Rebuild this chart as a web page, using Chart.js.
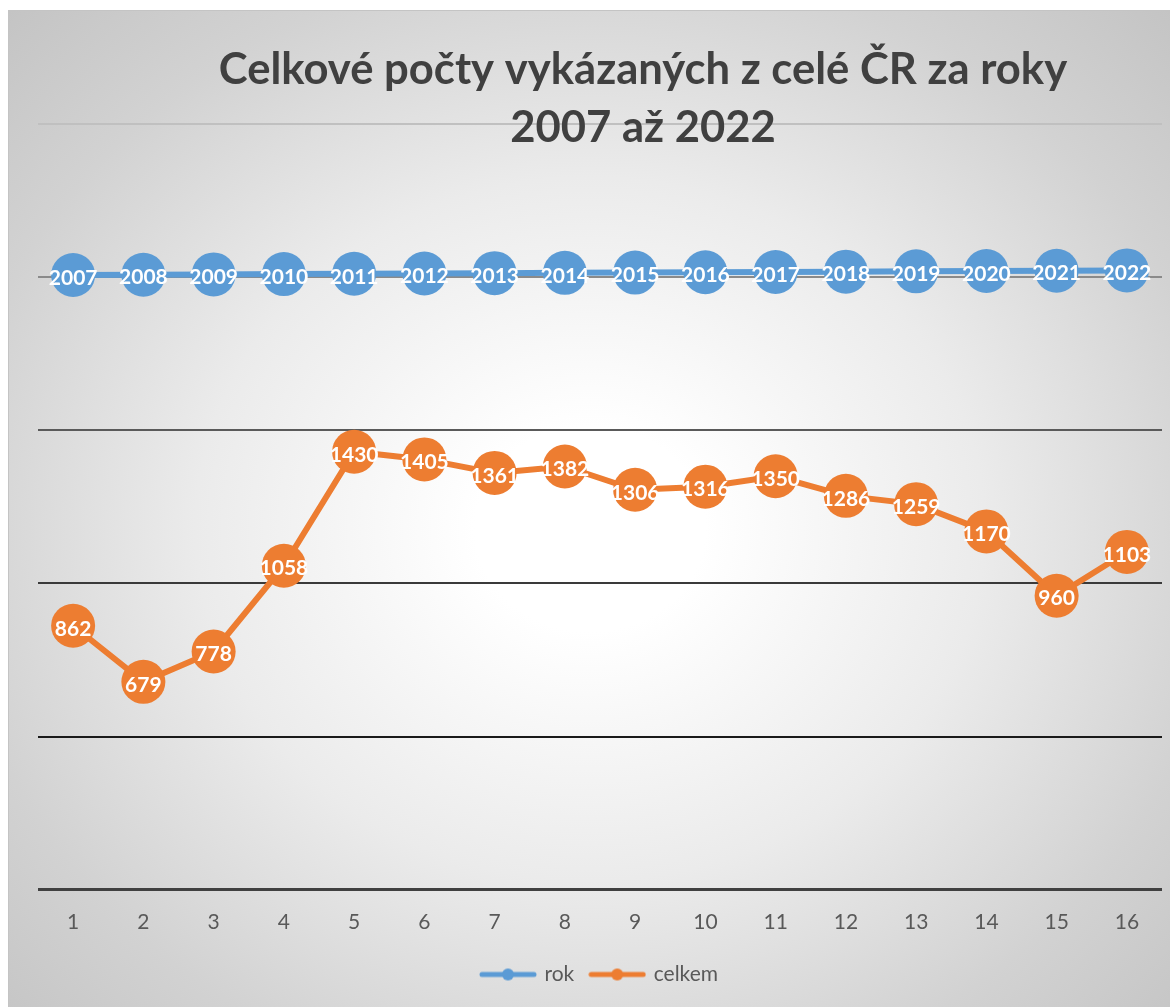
<!DOCTYPE html>
<html>
<head>
<meta charset="utf-8">
<script src="https://cdn.jsdelivr.net/npm/chart.js@4/dist/chart.umd.min.js"></script>
<style>
    html, body { margin: 0; padding: 0; background: #ffffff; overflow: hidden; }
    #wrap {
        position: absolute;
        left: 8px;
        top: 10px;
        width: 1162px;
        height: 996px;
        border-left: 1px solid #c4c4c4;
        border-top: 1px solid #c4c4c4;
        background: radial-gradient(ellipse farthest-corner at 50% 52%, #ffffff 0%, #ffffff 14%, #ebebeb 48%, #d2d2d2 78%, #c4c4c4 100%);
    }
</style>
</head>
<body>
<div id="wrap"><canvas id="chart"></canvas></div>
<script>
// data
const categories = ['1', '2', '3', '4', '5', '6', '7', '8', '9', '10', '11', '12', '13', '14', '15', '16'];
const rok = [2007, 2008, 2009, 2010, 2011, 2012, 2013, 2014, 2015, 2016, 2017, 2018, 2019, 2020, 2021, 2022];
const celkem = [862, 679, 778, 1058, 1430, 1405, 1361, 1382, 1306, 1316, 1350, 1286, 1259, 1170, 960, 1103];
const titleLines = ['Celkové počty vykázaných z celé ČR za roky', '2007 až 2022'];

const blue = '#5b9bd5';
const orange = '#ed7d31';
// gridline colour / width per tick (0, 500, ... 2500)
const gridColors = ['#404040', '#1a1a1a', '#3a3a3a', '#5a5a5a', '#8a8a8a', '#c0c0c0'];
const gridWidths = [3, 2, 2, 2, 2, 2];

function makeLegendIcon(color) {
    let c = document.createElement('canvas');
    c.width = 58;
    c.height = 16;
    let g = c.getContext('2d');
    g.strokeStyle = color;
    g.lineWidth = 5;
    g.lineCap = 'round';
    g.beginPath();
    g.moveTo(3, 8);
    g.lineTo(55, 8);
    g.stroke();
    g.fillStyle = color;
    g.beginPath();
    g.arc(29, 8, 6, 0, Math.PI * 2);
    g.fill();
    return c;
}
const legendIcons = [makeLegendIcon(blue), makeLegendIcon(orange)];

// white value labels inside the markers
const valueLabels = {
    id: 'valueLabels',
    afterDatasetsDraw: function (chart) {
        let ctx = chart.ctx;
        ctx.save();
        ctx.font = 'bold 21px Lato';
        ctx.fillStyle = '#ffffff';
        ctx.textAlign = 'center';
        ctx.textBaseline = 'middle';
        chart.data.datasets.forEach(function (ds, di) {
            chart.getDatasetMeta(di).data.forEach(function (pt, i) {
                ctx.fillText(String(ds.data[i]), pt.x, pt.y + 3);
            });
        });
        ctx.restore();
    }
};

// two-line title, centred a bit right of the canvas middle like the original
const chartTitle = {
    id: 'chartTitle',
    afterDraw: function (chart) {
        let ctx = chart.ctx;
        ctx.save();
        ctx.font = 'bold 40px Lato';
        let w = ctx.measureText(titleLines[0]).width;
        let size = 40 * 848 / w;
        ctx.font = 'bold ' + size.toFixed(1) + 'px Lato';
        ctx.fillStyle = '#404040';
        ctx.textAlign = 'center';
        ctx.textBaseline = 'alphabetic';
        ctx.fillText(titleLines[0], 634, 73);
        ctx.fillText(titleLines[1], 634, 131);
        ctx.restore();
    }
};

let ctx = document.getElementById('chart').getContext('2d');
let chart = new Chart(ctx, {
    type: 'line',
    data: {
        labels: categories,
        datasets: [{
            label: 'rok',
            data: rok,
            borderColor: blue,
            backgroundColor: blue,
            borderWidth: 6,
            pointRadius: 22,
            pointHoverRadius: 22,
            pointBorderWidth: 0,
            tension: 0
        }, {
            label: 'celkem',
            data: celkem,
            borderColor: orange,
            backgroundColor: orange,
            borderWidth: 6,
            pointRadius: 22,
            pointHoverRadius: 22,
            pointBorderWidth: 0,
            tension: 0
        }]
    },
    options: {
        responsive: true,
        maintainAspectRatio: false,
        animation: false,
        layout: {
            autoPadding: false,
            padding: { left: 29, right: 9, top: 113, bottom: 12 }
        },
        scales: {
            x: {
                offset: true,
                grid: { display: false },
                border: { display: false },
                ticks: {
                    color: '#595959',
                    font: { family: 'Lato', size: 21 },
                    padding: 12,
                    maxRotation: 0
                }
            },
            y: {
                min: 0,
                max: 2500,
                ticks: { stepSize: 500, display: false },
                border: { display: false },
                grid: {
                    drawTicks: false,
                    color: function (c) { return gridColors[c.index]; },
                    lineWidth: function (c) { return gridWidths[c.index]; }
                }
            }
        },
        plugins: {
            title: { display: false },
            tooltip: { enabled: false },
            legend: {
                position: 'bottom',
                labels: {
                    usePointStyle: true,
                    pointStyleWidth: 52,
                    padding: 17,
                    color: '#595959',
                    font: { family: 'Lato', size: 21 },
                    generateLabels: function (chart) {
                        let items = Chart.defaults.plugins.legend.labels.generateLabels(chart);
                        items.forEach(function (item, i) {
                            item.pointStyle = legendIcons[i];
                        });
                        return items;
                    }
                }
            }
        }
    },
    plugins: [valueLabels, chartTitle]
});
</script>
</body>
</html>
